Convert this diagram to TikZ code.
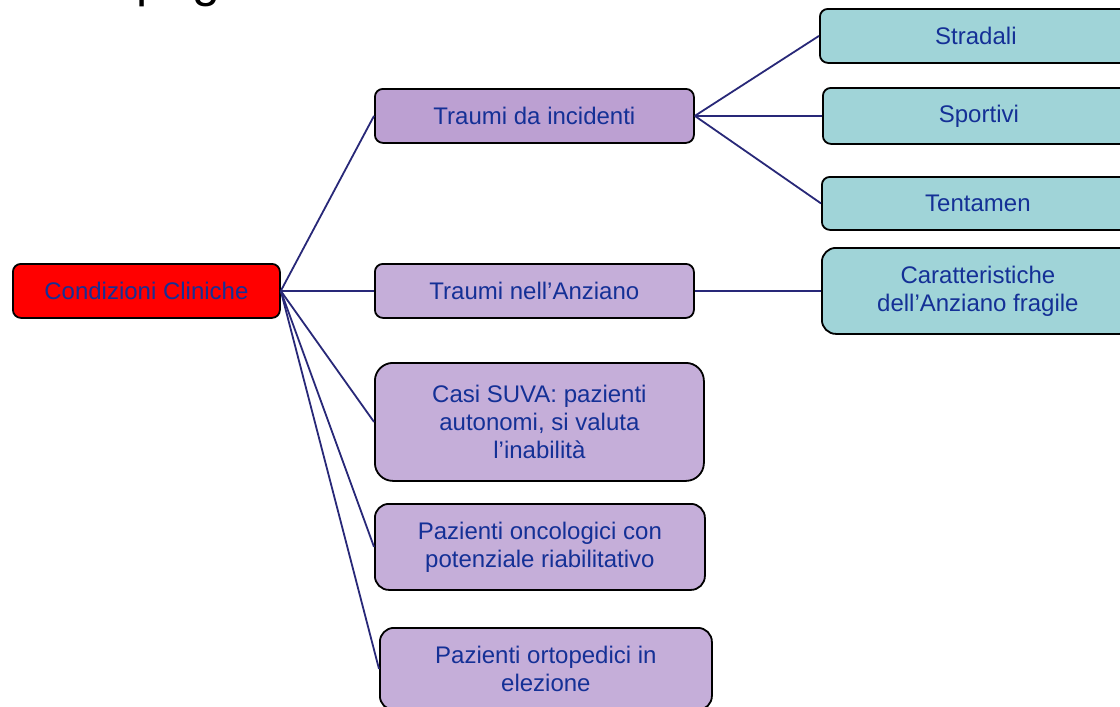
\documentclass[tikz,border=0pt]{standalone}
\usepackage{fontspec}
\setmainfont{Liberation Sans}
\usepackage{xcolor}
\usepackage{tikz}

\definecolor{linkblue}{RGB}{40,40,120}
\definecolor{textblue}{RGB}{20,48,150}
\definecolor{lilac}{RGB}{197,174,217}
\definecolor{lilacdark}{RGB}{188,160,210}
\definecolor{leafteal}{RGB}{160,212,216}

\tikzset{
  box/.style={draw=black, line width=1.8pt, rounded corners=8pt, text=textblue,
    font=\fontsize{24}{28}\selectfont, align=center, inner sep=0pt, anchor=north west},
  rootbox/.style={box, fill=red},
  midbox/.style={box, fill=lilac},
  leafbox/.style={box, fill=leafteal, minimum width=312pt},
  link/.style={draw=linkblue, line width=1.8pt}
}

\begin{document}
\begin{tikzpicture}[x=1pt, y=-1pt]
  \useasboundingbox (0,0) rectangle (1120,707);
  \fill[white] (0,0) rectangle (1120,707);
  % title, only its tail is on the page
  \node[anchor=base west, inner sep=0pt, font=\fontsize{50}{50}\selectfont] (title) at (136.5,-4) {pag};
  % left node
  \node[rootbox, minimum width=267pt, minimum height=54pt] (clin) at (12,263) {Condizioni Cliniche};
  % middle column
  \node[midbox, fill=lilacdark, minimum width=319pt, minimum height=54pt] (incid) at (374,88) {Traumi da incidenti};
  \node[midbox, minimum width=319pt, minimum height=54pt] (anziano) at (374,263) {Traumi nell'Anziano};
  \node[midbox, rounded corners=18pt, minimum width=329pt, minimum height=118pt] (suva) at (374,362) {Casi SUVA: pazienti\\autonomi, si valuta\\l'inabilit\`a};
  \node[midbox, rounded corners=14pt, minimum width=330pt, minimum height=86pt] (onco) at (374,503) {Pazienti oncologici con\\potenziale riabilitativo};
  \node[midbox, rounded corners=14pt, minimum width=332pt, minimum height=82pt] (orto) at (379,627) {Pazienti ortopedici in\\elezione};
  % right column
  \node[leafbox, minimum height=54pt] (strad) at (819,8) {Stradali};
  \node[leafbox, minimum height=56pt] (sport) at (822,87) {Sportivi};
  \node[leafbox, minimum height=53pt] (tent) at (821,176) {Tentamen};
  \node[leafbox, rounded corners=14pt, minimum height=86pt] (fragile) at (821,247) {Caratteristiche\\dell'Anziano fragile};
  % connectors
  \draw[link] (clin.east) -- (incid.west);
  \draw[link] (clin.east) -- (anziano.west);
  \draw[link] (clin.east) -- (suva.west);
  \draw[link] (clin.east) -- (onco.west);
  \draw[link] (clin.east) -- (orto.west);
  \draw[link] (incid.east) -- (strad.west);
  \draw[link] (incid.east) -- (sport.west);
  \draw[link] (incid.east) -- (tent.west);
  \draw[link] (anziano.east) -- (fragile.west);
\end{tikzpicture}
\end{document}
